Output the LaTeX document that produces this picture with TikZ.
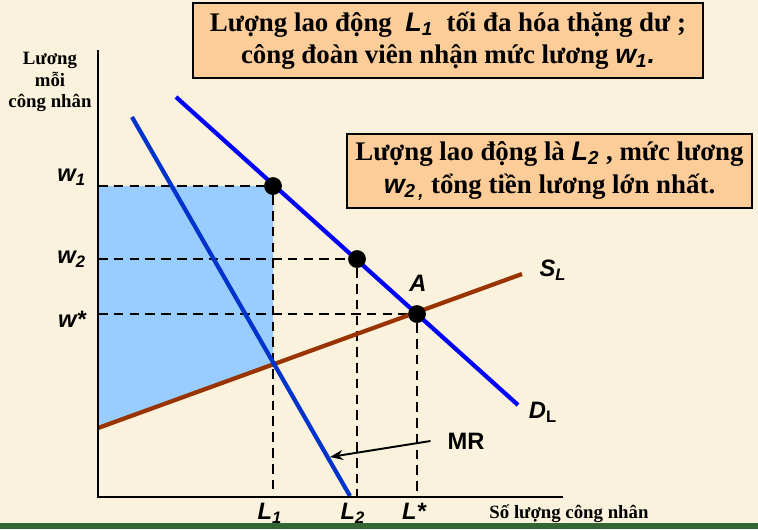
\documentclass[tikz,border=0pt]{standalone}
\usepackage{fontspec}
\setmainfont{Liberation Serif}
\setsansfont{Liberation Sans}
\usetikzlibrary{
  arrows.meta,
  positioning,
  calc
}
\definecolor{papercolor}{RGB}{250, 242, 220}
\definecolor{notecolor}{RGB}{252, 204, 153}
\definecolor{shadecolor}{RGB}{153, 204, 255}
\definecolor{demandcolor}{RGB}{0, 0, 255}
\definecolor{mrcolor}{RGB}{0, 51, 204}
\definecolor{supplycolor}{RGB}{153, 51, 0}
\definecolor{footcolor}{RGB}{51, 102, 51}
\newcommand{\itlab}[2]{{\sffamily\bfseries\itshape #1\textsubscript{#2}}}
\tikzset{
notebox/.style={
  draw,
  line width=0.8pt,
  fill=notecolor,
  align=center,
  inner sep=0pt,
  font=\fontsize{15.3}{18.5}\selectfont\bfseries
},
axislabel/.style={
  align=center,
  font=\fontsize{10.7}{12.2}\selectfont\bfseries
},
curvelabel/.style={
  inner sep=1pt,
  font=\fontsize{13.5}{15}\selectfont\sffamily\bfseries\itshape
},
guide/.style={
  draw=black,
  line width=1.1pt,
  dash pattern=on 5.5pt off 3.5pt
},
curve/.style={
  line width=2.4pt
},
eqdot/.style={
  circle,
  fill=black,
  inner sep=0pt,
  minimum size=0.35cm
}
}

\begin{document}
\begin{tikzpicture}[
    x=0.02cm, y=-0.02cm,
    mrarrow/.style={
        -{Stealth[length=2.6mm, width=2mm]},
        line width=1.1pt,
        black,
    },
]

% ============================================================================
% NEN
% ============================================================================
\fill[papercolor] (0, 0) rectangle (758, 529);
\useasboundingbox (0, 0) rectangle (758, 529);
\fill[footcolor] (0, 523) rectangle (758, 529);

% diem tren truc
\coordinate (origin) at (98, 497);
\coordinate (ytop) at (98, 50);
\coordinate (xend) at (563, 497);
\coordinate (w1) at (98, 186);
\coordinate (w2) at (98, 259);
\coordinate (wstar) at (98, 314);
\coordinate (l1) at (273, 497);
\coordinate (l2) at (357, 497);
\coordinate (lstar) at (417, 497);

% ============================================================================
% VUNG THANG DU
% ============================================================================
\fill[shadecolor] (w1) -- (273, 186) -- (273, 364) -- (98, 428) -- cycle;

% Cac diem can bang
\node[eqdot] (p1) at (273, 186) {};
\node[eqdot] (p2) at (357, 259) {};
\node[eqdot] (pa) at (417, 314) {};

% Duong giong
\draw[guide] (w1) -- (p1) -- (l1);
\draw[guide] (w2) -- (p2) -- (l2);
\draw[guide] (wstar) -- (pa) -- (lstar);

% ============================================================================
% CAC DUONG CUNG, CAU, MR
% ============================================================================
\draw[curve, supplycolor] (98, 428) -- (522, 274);
\draw[curve, mrcolor] (132, 117) -- (350, 496);
\draw[curve, demandcolor] (176, 97) -- (518, 405);

\node[eqdot] at (p1) {};
\node[eqdot] at (p2) {};
\node[eqdot] at (pa) {};

% Truc
\draw[line width=1.1pt] (ytop) -- (origin) -- (xend);

% ============================================================================
% NHAN
% ============================================================================
\node[curvelabel, left=0.2cm of w1, yshift=0.17cm] (w1lab) {w\textsubscript{1}};
\node[curvelabel, left=0.2cm of w2] (w2lab) {w\textsubscript{2}};
\node[curvelabel, left=0.2cm of wstar, yshift=-0.1cm] (wslab) {w*};

\node[curvelabel] (l1lab) at (270, 513) {L\textsubscript{1}};
\node[curvelabel] (l2lab) at (353, 513) {L\textsubscript{2}};
\node[curvelabel] (lslab) at (414, 511) {L*};

\node[curvelabel] (alab) at (418, 283) {A};
\node[curvelabel] (sllab) at (553, 270) {S\textsubscript{L}};
\node[curvelabel] (dllab) at (543, 412) {D\textsubscript{\upshape L}};

\node[curvelabel, font=\fontsize{13.5}{15}\selectfont\sffamily\bfseries] (mrlab) at (466, 441) {MR};
\draw[mrarrow] ([xshift=-0.3cm]mrlab.west) -- (330, 457);

\node[axislabel] (ylab) at (50, 82) {Lương\\mỗi\\công nhân};
\node[axislabel] (xlab) at (569, 514) {Số lượng công nhân};

% ============================================================================
% CHU THICH
% ============================================================================
\node[notebox, minimum width=10.2cm, minimum height=1.5cm] (note1) at (448, 40.5)
  {Lượng lao động \ \itlab{L}{1} \ tối đa hóa thặng dư ;\\
   công đoàn viên nhận mức lương \itlab{w}{1}\textsf{\textbf{\textit{.}}}};
\node[notebox, minimum width=8.1cm, minimum height=1.48cm] (note2) at (549.5, 171)
  {Lượng lao động là \itlab{L}{2} , mức lương\\
   \itlab{w}{2\,,} tổng tiền lương lớn nhất.};

\end{tikzpicture}
\end{document}
